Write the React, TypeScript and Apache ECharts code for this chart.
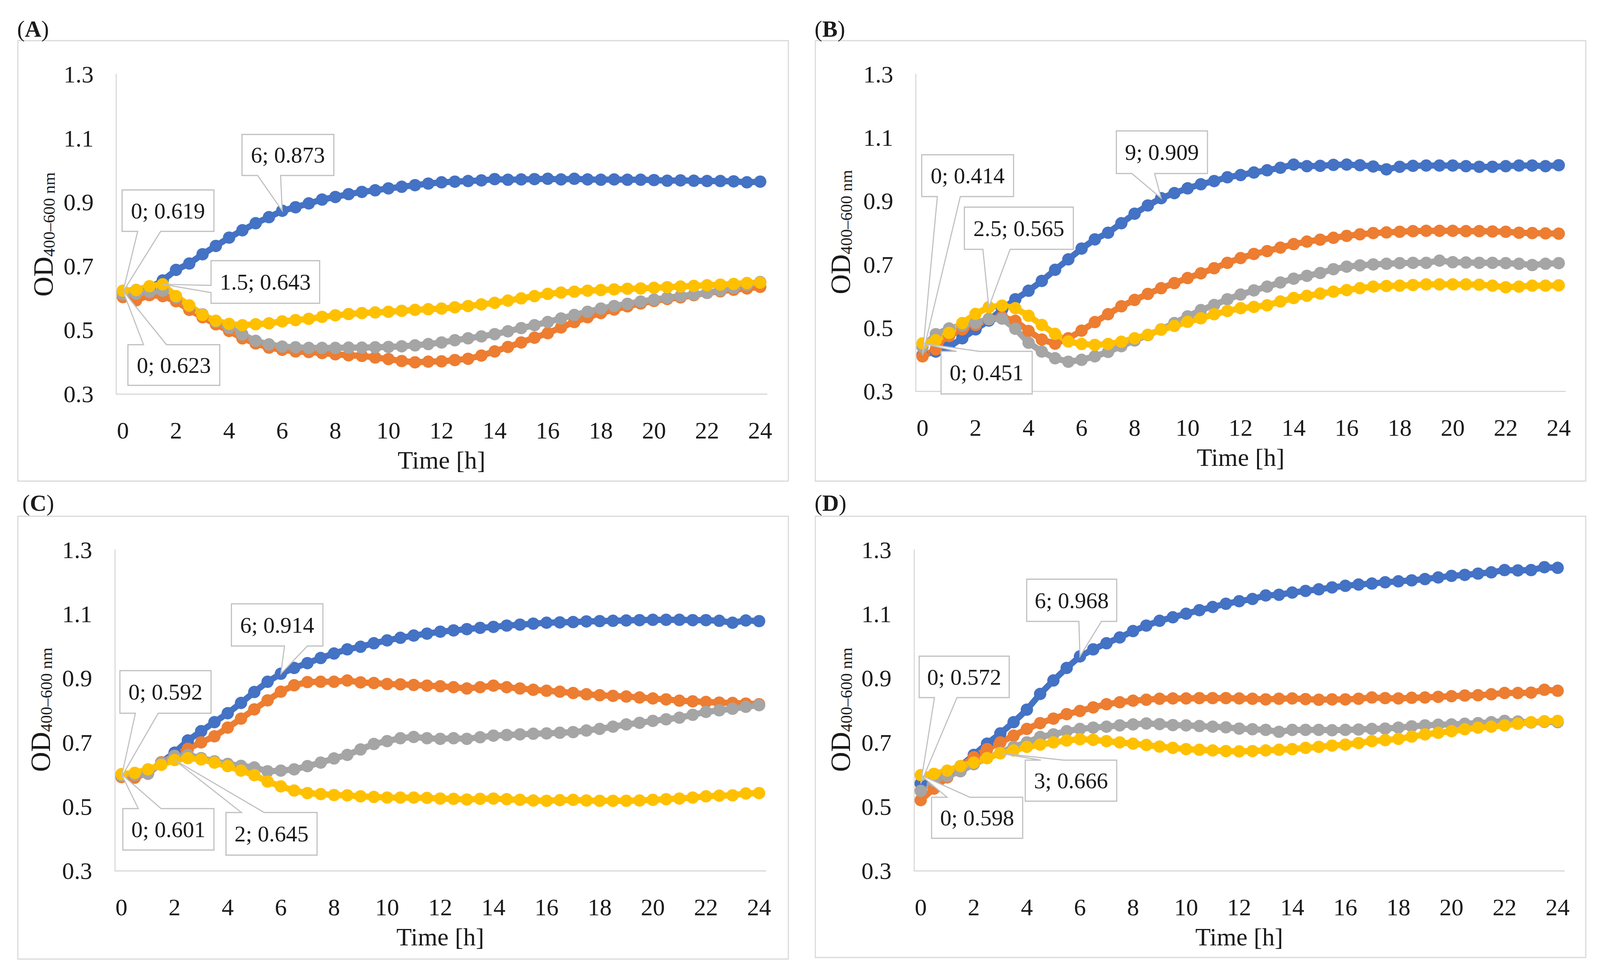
import React, { useEffect, useRef, useState } from 'react';
import * as echarts from 'echarts';

const TIMES = ['0','0.5','1','1.5','2','2.5','3','3.5','4','4.5','5','5.5','6','6.5','7','7.5','8','8.5','9','9.5','10','10.5','11','11.5','12','12.5','13','13.5','14','14.5','15','15.5','16','16.5','17','17.5','18','18.5','19','19.5','20','20.5','21','21.5','22','22.5','23','23.5','24'];

const A_BLUE = [0.619,0.625,0.632,0.655,0.688,0.708,0.737,0.763,0.789,0.812,0.834,0.853,0.873,0.884,0.896,0.908,0.916,0.925,0.932,0.937,0.943,0.948,0.953,0.958,0.962,0.964,0.966,0.968,0.972,0.970,0.971,0.972,0.973,0.971,0.973,0.971,0.970,0.971,0.970,0.970,0.969,0.967,0.968,0.967,0.966,0.966,0.965,0.962,0.964];
const A_ORANGE = [0.603,0.593,0.609,0.606,0.590,0.563,0.540,0.518,0.497,0.474,0.458,0.445,0.438,0.433,0.431,0.428,0.424,0.421,0.419,0.414,0.409,0.403,0.399,0.401,0.402,0.406,0.410,0.420,0.433,0.447,0.461,0.476,0.490,0.508,0.525,0.540,0.553,0.564,0.574,0.583,0.591,0.597,0.602,0.609,0.616,0.621,0.626,0.630,0.635];
const A_GRAY = [0.612,0.614,0.619,0.623,0.602,0.575,0.549,0.526,0.507,0.486,0.466,0.455,0.448,0.446,0.444,0.444,0.444,0.445,0.445,0.446,0.447,0.449,0.452,0.456,0.461,0.468,0.474,0.480,0.487,0.496,0.506,0.515,0.525,0.536,0.547,0.557,0.567,0.575,0.582,0.589,0.595,0.601,0.606,0.611,0.616,0.624,0.632,0.641,0.650];
const A_YELLOW = [0.623,0.625,0.637,0.643,0.606,0.577,0.547,0.529,0.519,0.515,0.518,0.521,0.527,0.531,0.535,0.541,0.546,0.550,0.553,0.555,0.557,0.560,0.563,0.565,0.567,0.571,0.575,0.580,0.585,0.592,0.599,0.606,0.613,0.617,0.620,0.623,0.625,0.627,0.629,0.630,0.632,0.634,0.636,0.638,0.640,0.642,0.644,0.647,0.648];

const B_BLUE = [0.414,0.425,0.440,0.467,0.495,0.523,0.558,0.590,0.617,0.648,0.683,0.716,0.750,0.779,0.800,0.830,0.860,0.886,0.909,0.925,0.940,0.953,0.963,0.975,0.982,0.990,0.997,1.005,1.015,1.010,1.011,1.014,1.015,1.013,1.009,1.000,1.008,1.011,1.012,1.012,1.012,1.010,1.008,1.008,1.010,1.012,1.012,1.010,1.013];
const B_ORANGE = [0.410,0.432,0.474,0.495,0.509,0.528,0.534,0.522,0.490,0.463,0.450,0.467,0.491,0.518,0.543,0.568,0.588,0.607,0.625,0.641,0.657,0.672,0.688,0.705,0.720,0.733,0.742,0.753,0.764,0.772,0.778,0.784,0.790,0.795,0.799,0.801,0.803,0.805,0.806,0.806,0.806,0.805,0.805,0.804,0.803,0.800,0.799,0.798,0.797];
const B_GRAY = [0.440,0.480,0.498,0.508,0.516,0.527,0.529,0.497,0.453,0.425,0.404,0.393,0.399,0.410,0.424,0.442,0.460,0.477,0.495,0.515,0.536,0.556,0.572,0.590,0.605,0.618,0.630,0.643,0.655,0.664,0.673,0.685,0.693,0.697,0.700,0.702,0.704,0.705,0.705,0.712,0.707,0.706,0.705,0.705,0.704,0.702,0.698,0.702,0.704];
const B_YELLOW = [0.451,0.461,0.484,0.515,0.544,0.565,0.570,0.562,0.538,0.509,0.481,0.457,0.449,0.446,0.449,0.456,0.467,0.478,0.494,0.506,0.519,0.530,0.543,0.553,0.562,0.566,0.571,0.583,0.594,0.601,0.608,0.614,0.619,0.625,0.630,0.632,0.633,0.635,0.637,0.637,0.637,0.637,0.636,0.633,0.628,0.630,0.633,0.633,0.634];

const C_BLUE = [0.598,0.601,0.606,0.638,0.668,0.706,0.735,0.763,0.791,0.823,0.857,0.889,0.914,0.932,0.947,0.963,0.977,0.990,0.998,1.009,1.018,1.026,1.033,1.039,1.045,1.049,1.053,1.057,1.060,1.064,1.067,1.070,1.073,1.074,1.075,1.077,1.078,1.079,1.080,1.081,1.082,1.082,1.082,1.081,1.081,1.079,1.073,1.080,1.078];
const C_ORANGE = [0.592,0.590,0.606,0.638,0.658,0.680,0.700,0.719,0.746,0.774,0.803,0.831,0.858,0.878,0.888,0.889,0.889,0.893,0.887,0.885,0.882,0.881,0.879,0.877,0.875,0.872,0.868,0.872,0.877,0.872,0.868,0.864,0.861,0.858,0.854,0.850,0.847,0.845,0.843,0.840,0.837,0.834,0.830,0.828,0.826,0.824,0.823,0.821,0.819];
const C_GRAY = [0.596,0.599,0.602,0.636,0.658,0.661,0.651,0.641,0.633,0.627,0.622,0.610,0.612,0.616,0.626,0.637,0.650,0.661,0.678,0.695,0.704,0.713,0.717,0.713,0.711,0.713,0.711,0.716,0.721,0.723,0.725,0.727,0.728,0.730,0.732,0.737,0.742,0.749,0.756,0.761,0.767,0.772,0.777,0.786,0.795,0.800,0.805,0.811,0.816];
const C_YELLOW = [0.601,0.605,0.616,0.630,0.645,0.651,0.647,0.637,0.626,0.612,0.598,0.578,0.563,0.550,0.542,0.539,0.536,0.535,0.532,0.530,0.528,0.528,0.528,0.527,0.525,0.524,0.522,0.524,0.525,0.523,0.521,0.519,0.518,0.520,0.521,0.519,0.518,0.518,0.518,0.519,0.521,0.523,0.525,0.528,0.532,0.534,0.535,0.541,0.542];

const D_BLUE = [0.572,0.581,0.598,0.626,0.661,0.696,0.728,0.763,0.802,0.851,0.893,0.932,0.968,0.990,1.009,1.027,1.047,1.064,1.079,1.090,1.101,1.112,1.122,1.132,1.140,1.147,1.158,1.160,1.167,1.172,1.177,1.183,1.188,1.192,1.195,1.199,1.202,1.205,1.209,1.214,1.219,1.222,1.226,1.230,1.237,1.236,1.237,1.246,1.244];
const D_ORANGE = [0.520,0.556,0.591,0.625,0.654,0.679,0.700,0.721,0.742,0.760,0.774,0.788,0.798,0.809,0.819,0.825,0.830,0.833,0.836,0.837,0.837,0.838,0.838,0.838,0.837,0.836,0.834,0.836,0.837,0.835,0.833,0.834,0.834,0.836,0.840,0.838,0.837,0.839,0.840,0.842,0.844,0.846,0.847,0.850,0.854,0.854,0.855,0.864,0.861];
const D_GRAY = [0.549,0.580,0.595,0.610,0.632,0.651,0.668,0.686,0.700,0.717,0.725,0.735,0.742,0.746,0.749,0.753,0.756,0.759,0.757,0.754,0.753,0.751,0.749,0.747,0.743,0.741,0.739,0.733,0.739,0.739,0.739,0.738,0.739,0.740,0.742,0.743,0.746,0.750,0.753,0.755,0.756,0.758,0.760,0.763,0.767,0.765,0.762,0.764,0.763];
const D_YELLOW = [0.598,0.602,0.612,0.626,0.637,0.651,0.666,0.675,0.686,0.693,0.700,0.706,0.710,0.708,0.704,0.700,0.696,0.692,0.687,0.683,0.679,0.677,0.675,0.673,0.672,0.673,0.675,0.677,0.679,0.683,0.686,0.690,0.693,0.698,0.704,0.707,0.711,0.718,0.725,0.730,0.735,0.741,0.746,0.749,0.753,0.758,0.763,0.766,0.767];

const PANEL_LETTERS = ['A', 'B', 'C', 'D'];
const PANEL_SERIES = [
  [A_BLUE, A_ORANGE, A_GRAY, A_YELLOW],
  [B_BLUE, B_ORANGE, B_GRAY, B_YELLOW],
  [C_BLUE, C_ORANGE, C_GRAY, C_YELLOW],
  [D_BLUE, D_ORANGE, D_GRAY, D_YELLOW],
];
// annotated points: [seriesIndex, timeIndex]
const PANEL_NOTES = [
  [[0, 12], [0, 0], [3, 3], [3, 0]],
  [[0, 0], [3, 5], [0, 18], [3, 0]],
  [[0, 12], [1, 0], [3, 0], [3, 4]],
  [[0, 12], [0, 0], [3, 6], [3, 0]],
];

// ---- layout (reference pixels, 4390 x 2505) ----
const REF_W = 4390;
const REF_H = 2505;
const LAYOUT = [
  { grid: [319, 190, 1785, 818], frame: [49, 104, 2114, 1127], letter: [47, 74], title: [119, 600],
    boxes: [[664, 344, 252, 105], [335, 486, 252, 106], [579, 667, 298, 109], [351, 882, 252, 104]] },
  { grid: [2513, 190, 1782, 811], frame: [2237, 104, 2114, 1127], letter: [2235, 74], title: [2307, 594],
    boxes: [[2529, 396, 252, 107], [2646, 530, 299, 108], [3063, 335, 250, 109], [2582, 899, 250, 109]] },
  { grid: [315, 1407, 1786, 821], frame: [49, 1321, 2114, 1133], letter: [61, 1287], title: [112, 1816],
    boxes: [[635, 1545, 251, 108], [329, 1716, 250, 109], [337, 2069, 250, 106], [620, 2079, 250, 109]] },
  { grid: [2508, 1407, 1784, 821], frame: [2237, 1321, 2114, 1129], letter: [2235, 1287], title: [2307, 1816],
    boxes: [[2817, 1482, 247, 108], [2522, 1679, 247, 106], [2813, 1945, 251, 105], [2556, 2040, 250, 105]] },
];

const COLORS = ['#4472C4', '#ED7D31', '#A5A5A5', '#FFC000'];
const FONT = "'Liberation Serif', 'Times New Roman', serif";
const TEXT = '#1a1a1a';
const AXIS = '#d9d9d9';
const CALLOUT = '#bfbfbf';

function calloutPoints(tip: number[], b: number[]) {
  const [x, y, w, h] = b;
  const [tx, ty] = tip;
  const leftish = tx < x + w / 2;
  const f1 = leftish ? 0.17 : 0.58;
  const f2 = leftish ? 0.42 : 0.83;
  if (ty > y + h) {
    return [[x, y], [x + w, y], [x + w, y + h], [x + w * f2, y + h], [tx, ty], [x + w * f1, y + h], [x, y + h]];
  }
  if (ty < y) {
    return [[x, y], [x + w * f1, y], [tx, ty], [x + w * f2, y], [x + w, y], [x + w, y + h], [x, y + h]];
  }
  if (tx < x) {
    return [[x, y], [x + w, y], [x + w, y + h], [x, y + h], [x, y + h * 0.75], [tx, ty], [x, y + h * 0.58]];
  }
  return [[x, y], [x + w, y], [x + w, y + h * 0.58], [tx, ty], [x + w, y + h * 0.75], [x + w, y + h], [x, y + h]];
}

function getScales() {
  const w = window.innerWidth || REF_W;
  const h = window.innerHeight || REF_H;
  return { sx: w / REF_W, sy: h / REF_H };
}

export default function App() {
  const ref = useRef<HTMLDivElement>(null);
  const [sc] = useState(getScales);
  useEffect(() => {
    const el = ref.current;
    if (!el) return;
    const { sx, sy } = sc;
    const kx = (n: number) => n * sx;
    const ky = (n: number) => n * sy;
    const kf = (n: number) => n * sx;
    const chart = echarts.init(el, null, { renderer: 'svg' });

    const grid = LAYOUT.map((l) => ({
      left: kx(l.grid[0]), top: ky(l.grid[1]), width: kx(l.grid[2]), height: ky(l.grid[3]),
      outerBoundsMode: 'none',
    }));
    const xAxis = LAYOUT.map((_, i) => ({
      type: 'category',
      gridIndex: i,
      data: TIMES,
      boundaryGap: true,
      axisLine: { show: true, onZero: false, lineStyle: { color: AXIS, width: kf(3) } },
      axisTick: { show: false },
      splitLine: { show: false },
      axisLabel: { interval: 3, margin: ky(62), fontSize: kf(66), fontFamily: FONT, color: TEXT },
      name: 'Time [h]',
      nameLocation: 'middle',
      nameGap: ky(137),
      nameTextStyle: { fontSize: kf(69), fontFamily: FONT, color: TEXT },
    }));
    const yAxis = LAYOUT.map((_, i) => ({
      type: 'value',
      gridIndex: i,
      min: 0.3,
      max: 1.3,
      interval: 0.1,
      axisLine: { show: true, lineStyle: { color: AXIS, width: kf(3) } },
      axisTick: { show: false },
      splitLine: { show: false },
      axisLabel: {
        margin: kx(62),
        fontSize: kf(66),
        fontFamily: FONT,
        color: TEXT,
        formatter: (v: number) => {
          const n = Math.round(v * 10);
          return n % 2 === 1 ? (n / 10).toFixed(1) : '';
        },
      },
    }));
    const series: any[] = [];
    PANEL_SERIES.forEach((arrs, pi) => {
      arrs.forEach((arr, si) => {
        series.push({
          type: 'line',
          xAxisIndex: pi,
          yAxisIndex: pi,
          data: arr,
          symbol: 'circle',
          symbolSize: kf(34),
          showSymbol: true,
          showAllSymbol: true,
          lineStyle: { width: kf(17), color: COLORS[si] },
          itemStyle: { color: COLORS[si] },
          emphasis: { disabled: true },
          silent: true,
        });
      });
    });

    chart.setOption({
      animation: false,
      backgroundColor: '#ffffff',
      grid,
      xAxis,
      yAxis,
      series,
    });

    const elements: any[] = [];
    LAYOUT.forEach((l, pi) => {
      const [fx, fy, fw, fh] = [kx(l.frame[0]), ky(l.frame[1]), kx(l.frame[2]), ky(l.frame[3])];
      elements.push({
        type: 'rect', z: 0, silent: true,
        shape: { x: fx, y: fy, width: fw, height: fh },
        style: { fill: 'none', stroke: AXIS, lineWidth: kf(3) },
      });
      elements.push({
        type: 'text', z: 5, silent: true,
        x: kx(l.letter[0]), y: ky(l.letter[1]),
        style: {
          text: `{n|(}{b|${PANEL_LETTERS[pi]}}{n|)}`,
          align: 'left', verticalAlign: 'middle',
          rich: {
            n: { fontSize: kf(63), fontFamily: FONT, fill: TEXT },
            b: { fontSize: kf(63), fontFamily: FONT, fontWeight: 'bold', fill: TEXT },
          },
        },
      });
      elements.push({
        type: 'text', z: 5, silent: true,
        x: kx(l.title[0]), y: ky(l.title[1]), rotation: Math.PI / 2,
        style: {
          text: '{a|OD}{b|400–600 nm}',
          align: 'center', verticalAlign: 'middle',
          rich: {
            a: { fontSize: kf(76), fontFamily: FONT, fill: TEXT },
            b: { fontSize: kf(46), fontFamily: FONT, fill: TEXT, verticalAlign: 'bottom' },
          },
        },
      });
      PANEL_NOTES[pi].forEach(([si, idx], ni) => {
        const v = PANEL_SERIES[pi][si][idx];
        const tip = chart.convertToPixel({ gridIndex: pi } as any, [idx, v]) as number[];
        const b0 = l.boxes[ni];
        const box = [kx(b0[0]), ky(b0[1]), kx(b0[2]), ky(b0[3])];
        elements.push({
          type: 'polygon', z: 100, silent: true,
          shape: { points: calloutPoints(tip, box) },
          style: { fill: '#ffffff', stroke: CALLOUT, lineWidth: kf(3) },
        });
        elements.push({
          type: 'text', z: 101, silent: true,
          x: box[0] + box[2] / 2, y: box[1] + box[3] / 2,
          style: {
            text: `${TIMES[idx]}; ${v.toFixed(3)}`,
            align: 'center', verticalAlign: 'middle',
            fontSize: kf(62), fontFamily: FONT, fill: TEXT,
          },
        });
      });
    });
    chart.setOption({ graphic: { elements } });

    return () => chart.dispose();
  }, [sc]);
  return (
    <div
      ref={ref}
      style={{ position: 'fixed', left: 0, top: 0, width: REF_W * sc.sx, height: REF_H * sc.sy, background: '#ffffff' }}
    />
  );
}
